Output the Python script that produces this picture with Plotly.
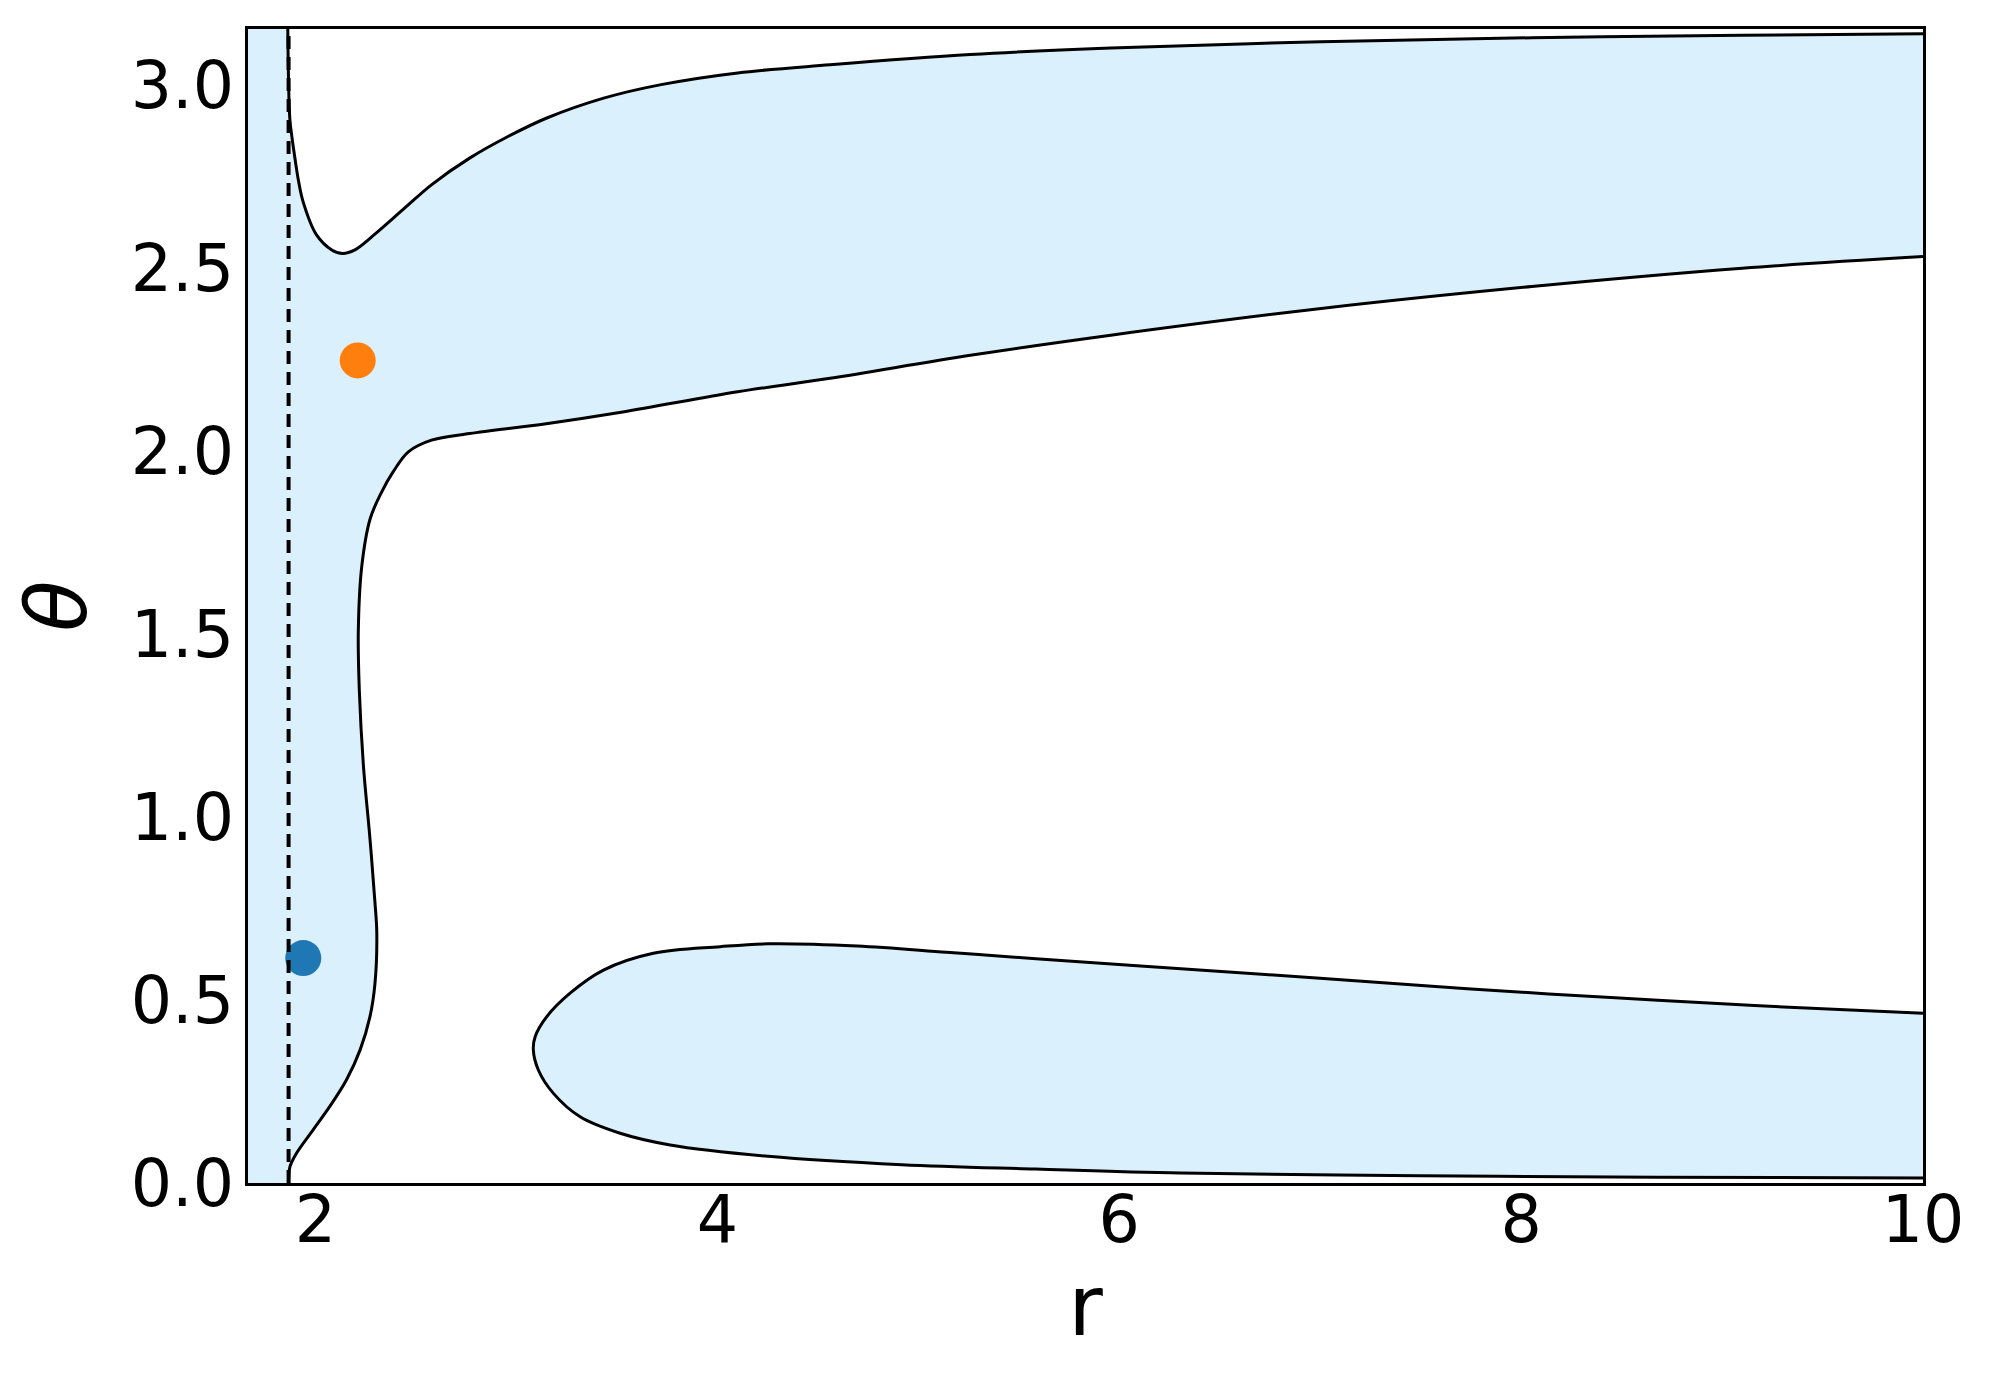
'''
    Region plot in the (r, theta) plane: shaded zones bounded by contour lines,
    horizon as a dashed line and two marked points.
'''
import plotly.graph_objects as go

# axis limits and ticks
R_LIMITS = [1.664, 10.0]
THETA_LIMITS = [0.0, 3.155]
R_TICKS = [2, 4, 6, 8, 10]
THETA_TICKS = [0.0, 0.5, 1.0, 1.5, 2.0, 2.5, 3.0]

# horizon position (dashed line)
R_HORIZON = 1.866

# upper contour: from the top at the horizon to the right edge
upper_r = [1.862, 1.872, 1.882, 1.900, 1.914, 1.938, 2.005, 2.081, 2.135, 2.196,
           2.291, 2.443, 2.577, 2.767, 2.958, 3.148, 3.434, 3.720, 4.101, 4.561,
           5.259, 5.958, 7.005, 8.053, 9.101, 10.0]
upper_theta = [3.155, 2.911, 2.862, 2.793, 2.744, 2.683, 2.592, 2.551, 2.541, 2.551,
               2.592, 2.665, 2.729, 2.802, 2.861, 2.911, 2.966, 3.003, 3.035, 3.057,
               3.085, 3.103, 3.120, 3.131, 3.138, 3.142]

# lower edge of the upper band, continuing down the left contour to the bottom
left_r = [10.0, 9.101, 8.053, 7.005, 5.958, 5.259, 4.561, 4.101, 3.529, 3.148,
          2.767, 2.577, 2.462, 2.386, 2.329, 2.272, 2.230, 2.213, 2.218, 2.238,
          2.271, 2.296, 2.305, 2.296, 2.271, 2.222, 2.155, 2.072, 1.989, 1.906,
          1.873, 1.867, 1.866]
left_theta = [2.533, 2.501, 2.451, 2.391, 2.318, 2.263, 2.200, 2.163, 2.108, 2.076,
              2.049, 2.031, 1.999, 1.944, 1.889, 1.816, 1.685, 1.509, 1.347, 1.144,
              0.941, 0.766, 0.683, 0.546, 0.455, 0.364, 0.283, 0.210, 0.146, 0.082,
              0.045, 0.020, 0.0]

# closed lobe near the bottom
lobe_r = [10.0, 9.161, 8.446, 7.732, 7.017, 6.307, 5.585, 5.140, 4.696, 4.252,
          4.014, 3.681, 3.433, 3.267, 3.151, 3.093, 3.084, 3.109, 3.184, 3.317,
          3.516, 3.765, 4.252, 4.918, 5.585, 6.307, 7.493, 8.680, 10.0]
lobe_theta = [0.464, 0.485, 0.507, 0.531, 0.559, 0.586, 0.613, 0.631, 0.648, 0.654,
              0.646, 0.628, 0.582, 0.519, 0.455, 0.400, 0.364, 0.309, 0.245, 0.181,
              0.136, 0.104, 0.073, 0.050, 0.038, 0.027, 0.020, 0.016, 0.014]

# marked points
points_r = [1.939, 2.21]
points_theta = [0.615, 2.249]
points_color = ['#1f77b4', '#ff7f0e']

FILL = '#dbf0fd'
FONT = 'DejaVu Sans'

fig = go.Figure()

# shaded zone on the left and the upper band
zone_r = ([R_LIMITS[0], R_LIMITS[0]] + upper_r + left_r + [R_LIMITS[0]])
zone_theta = ([THETA_LIMITS[0], THETA_LIMITS[1]] + upper_theta + left_theta + [THETA_LIMITS[0]])
fig.add_trace(go.Scatter(x=zone_r, y=zone_theta, mode='lines', fill='toself',
                         fillcolor=FILL, line=dict(width=0), hoverinfo='skip'))

# shaded lobe
fig.add_trace(go.Scatter(x=lobe_r + [lobe_r[0]], y=lobe_theta + [lobe_theta[0]],
                         mode='lines', fill='toself', fillcolor=FILL,
                         line=dict(width=0), hoverinfo='skip'))

# contour lines
for xs, ys in [(upper_r, upper_theta), (left_r, left_theta), (lobe_r, lobe_theta)]:
    fig.add_trace(go.Scatter(x=xs, y=ys, mode='lines',
                             line=dict(color='black', width=3, shape='spline', smoothing=1.0),
                             hoverinfo='skip'))

fig.add_trace(go.Scatter(x=points_r, y=points_theta, mode='markers',
                         marker=dict(size=36, color=points_color, line=dict(width=0))))

fig.add_vline(x=R_HORIZON, line=dict(color='black', width=4, dash='13px,8px'))

axis_common = dict(showline=True, linecolor='black', linewidth=3, mirror=True,
                   showgrid=False, zeroline=False, ticks='',
                   tickfont=dict(family=FONT, size=65, color='black'))

# the page adds an 8px body margin, so the margins are shifted by that amount
fig.update_layout(
    width=1995, height=1389,
    margin=dict(l=240, r=80, t=21, b=214),
    paper_bgcolor='white', plot_bgcolor='white',
    showlegend=False,
    font=dict(family=FONT, color='black'),
    xaxis=dict(range=R_LIMITS, tickvals=R_TICKS, ticklabelstandoff=-22,
               title=dict(text='r', font=dict(family=FONT, size=84), standoff=10),
               **axis_common),
    yaxis=dict(range=THETA_LIMITS, tickvals=THETA_TICKS, tickformat='.1f',
               ticklabelstandoff=-2,
               title=dict(text='<i>θ</i>', font=dict(family=FONT, size=84), standoff=24),
               **axis_common),
)

fig.write_html('out.html')
